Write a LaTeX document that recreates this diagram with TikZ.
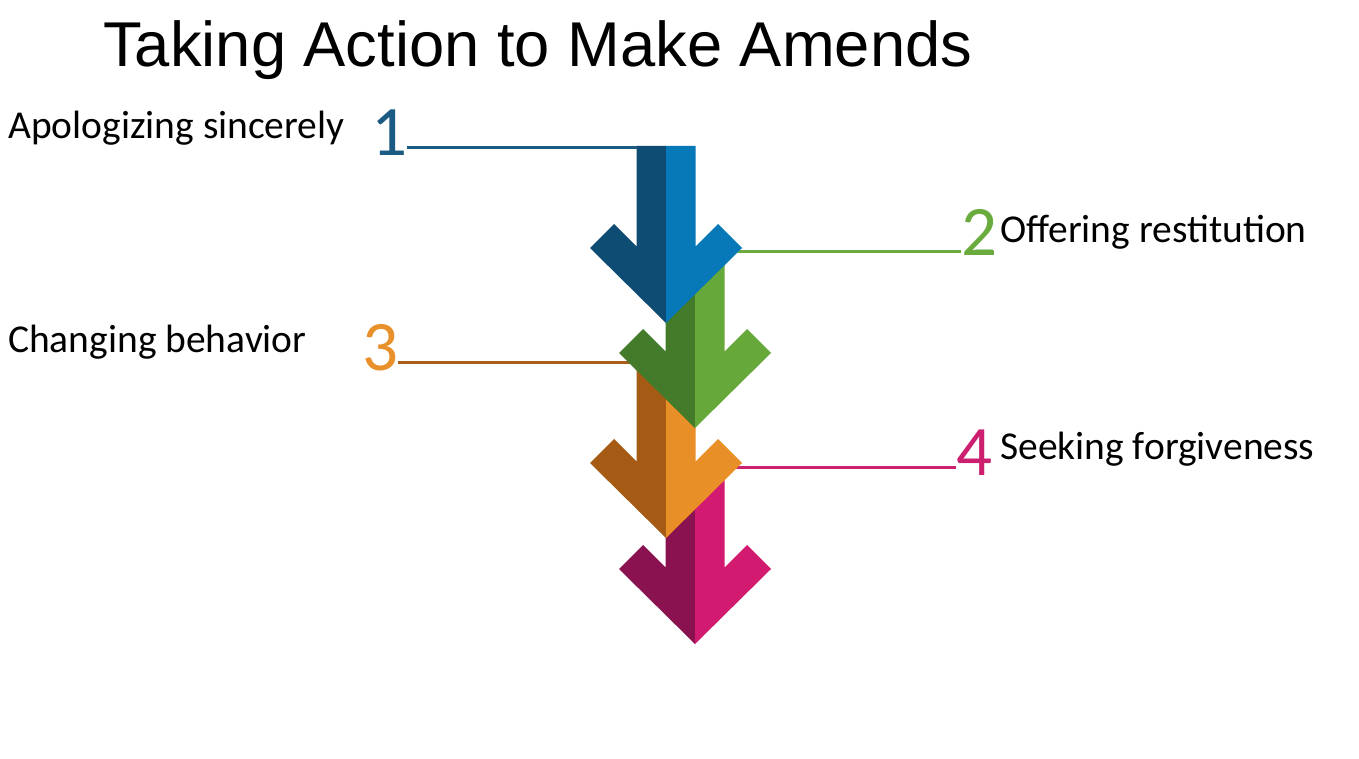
\documentclass[tikz,border=0pt]{standalone}
\usepackage{fontspec}
\setmainfont{Carlito}
\newfontfamily\titlefont{Liberation Sans}
\definecolor{bluedk}{HTML}{0F4C74}
\definecolor{bluelt}{HTML}{0778B8}
\definecolor{greendk}{HTML}{437B2A}
\definecolor{greenlt}{HTML}{67A83B}
\definecolor{orangedk}{HTML}{A65B14}
\definecolor{orangelt}{HTML}{E98F27}
\definecolor{magdk}{HTML}{8B1250}
\definecolor{maglt}{HTML}{D21B70}
\definecolor{numblue}{HTML}{1A5A83}
\definecolor{numgreen}{HTML}{6AAB3E}
\definecolor{numorange}{HTML}{E8902A}
\definecolor{nummag}{HTML}{CC1F70}
\definecolor{lineorange}{HTML}{A85D18}
\tikzset{
  lbl/.style={anchor=base west,inner sep=0pt,font=\fontsize{39.5}{41}\selectfont,text=black},
  num/.style={anchor=base west,inner sep=0pt,font=\fontsize{71}{72}\selectfont},
  lead/.style={line width=3pt},
}
% #1 centre x, #2 wing-tip level y, #3 shaft top y, #4 dark colour, #5 light colour
\newcommand{\downarrowshape}[5]{%
  \fill[#4] (#1-29.5,#3) -- (#1-29.5,#2-1.5) -- (#1-52,#2-24) -- (#1-76,#2) -- (#1,#2+75) -- (#1,#3) -- cycle;
  \fill[#5] (#1+29.5,#3) -- (#1+29.5,#2-1.5) -- (#1+52,#2-24) -- (#1+76,#2) -- (#1,#2+75) -- (#1,#3) -- cycle;
}
\begin{document}
\begin{tikzpicture}[x=1pt,y=-1pt]
\useasboundingbox (0,0) rectangle (1359,759);
\fill[white] (0,0) rectangle (1359,759);

% title
\node[anchor=base west,inner sep=0pt,font=\titlefont\fontsize{63.3}{66}\selectfont] (title) at (103,67) {Taking Action to Make Amends};

% labels
\node[lbl] (l1) at (8,139) {Apologizing sincerely};
\node[lbl] (l2) at (1000,243) {Offering restitution};
\node[lbl] (l3) at (8,352) {Changing behavior};
\node[lbl] (l4) at (1000,459) {Seeking forgiveness};

% numbers
\node[num,text=numblue] (n1) at (371,156) {1};
\node[num,text=numgreen] (n2) at (961,255) {2};
\node[num,text=numorange] (n3) at (362,370) {3};
\node[num,text=nummag] (n4) at (956,475) {4};

% attach points on arrows
\coordinate (c1) at (637,148);
\coordinate (c2) at (730,252);
\coordinate (c3) at (630,362);
\coordinate (c4) at (730,467);

% leader lines (beneath arrows)
\draw[lead,numgreen] (c2) -- (c2 -| n2.west);
\draw[lead,lineorange] (n3.east |- c3) -- (c3);
\draw[lead,nummag] (c4) -- (c4 -| n4.west);

% arrows, bottom to top
\downarrowshape{695}{569}{466}{magdk}{maglt}
\downarrowshape{666}{463}{356}{orangedk}{orangelt}
\downarrowshape{695}{353}{251}{greendk}{greenlt}
\downarrowshape{666}{248}{146}{bluedk}{bluelt}

\draw[lead,numblue] (n1.east |- c1) -- (c1);
\end{tikzpicture}
\end{document}
